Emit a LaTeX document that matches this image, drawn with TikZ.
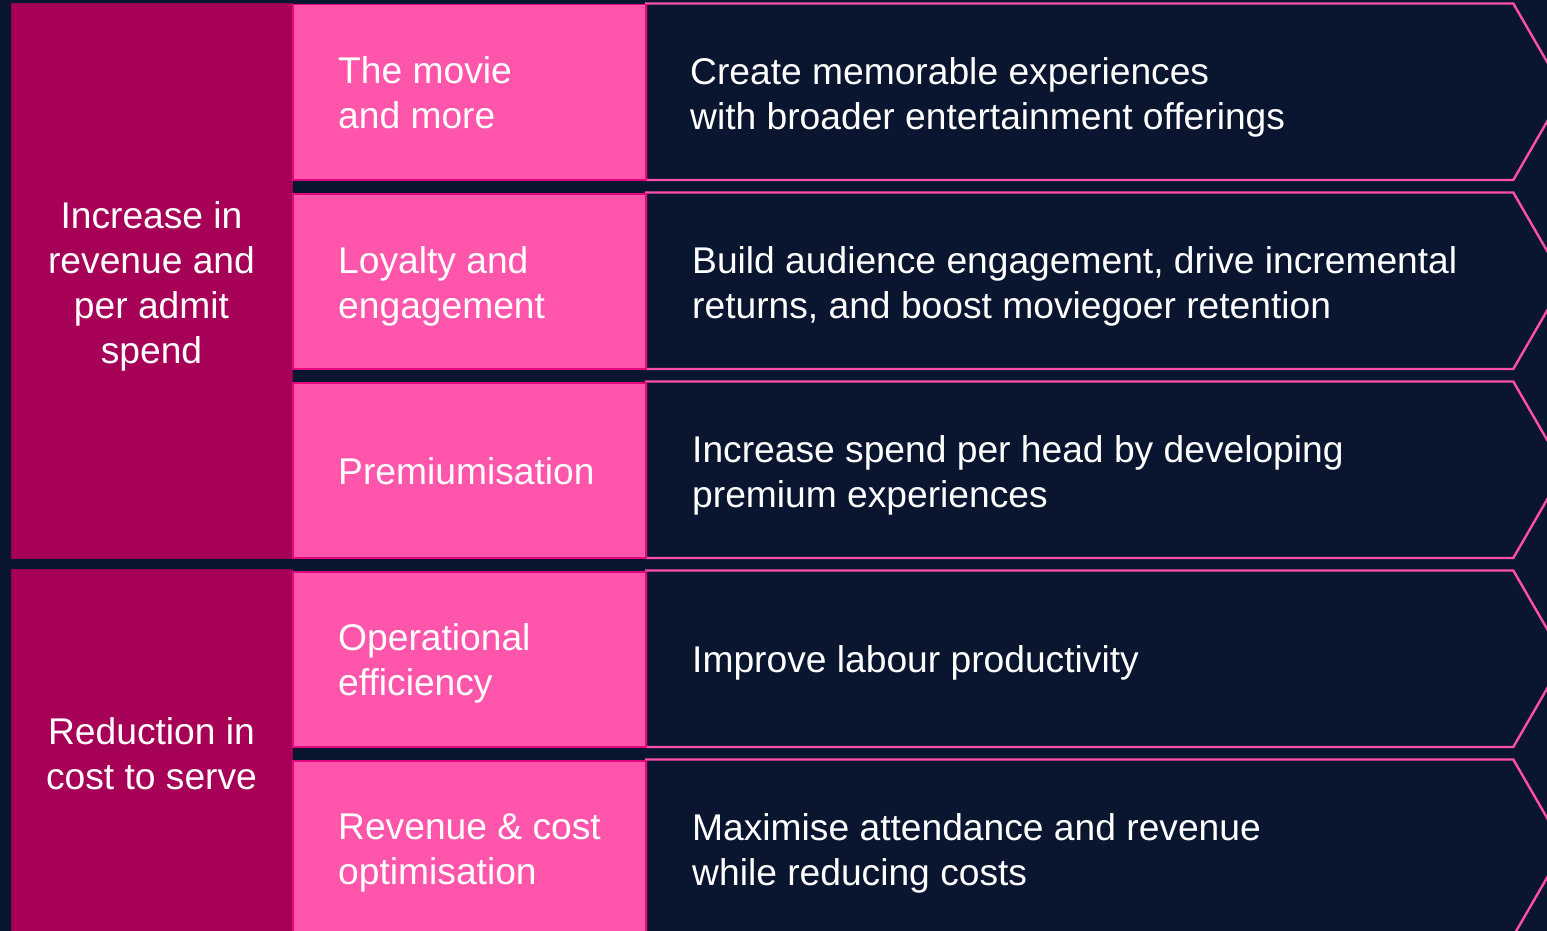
\documentclass[tikz,border=0pt]{standalone}
\usepackage{fontspec}
\setmainfont{Liberation Sans}
\definecolor{navy}{HTML}{0A1530}
\definecolor{plum}{HTML}{A70057}
\definecolor{plumedge}{HTML}{94004D}
\definecolor{rose}{HTML}{FF55AA}
\definecolor{roseedge}{HTML}{E3087E}
\definecolor{chevline}{HTML}{FF4FA8}
\begin{document}
\begin{tikzpicture}[x=1pt,y=-1pt,
  groupbox/.style={fill=plum, draw=plumedge, line width=1pt, anchor=north west,
    minimum width=281pt, inner sep=0pt},
  topicbox/.style={fill=rose, draw=roseedge, line width=1.5pt, anchor=north west,
    minimum width=353pt, minimum height=175pt, inner sep=0pt},
  chev/.style={draw=chevline, line width=2.4pt, fill=navy, line join=miter},
  txt/.style={text=white, font=\fontsize{37.2}{45}\selectfont, inner sep=0pt},
  grouptxt/.style={txt, align=center},
  topictxt/.style={txt, align=left, anchor=west},
  desctxt/.style={txt, align=left, anchor=west}]
% canvas
\fill[navy] (0,0) rectangle (1547,931);
\useasboundingbox (0,0) rectangle (1547,931);
\begin{scope}
\clip (0,0) rectangle (1547,931);

% left group boxes
\node[groupbox, minimum height=555pt] (g1) at (11,3) {};
\node[groupbox, minimum height=380pt] (g2) at (11,569) {};
\node[grouptxt] (g1t) at (151.5,286.5) {Increase in\\revenue and\\per admit\\spend};
\node[grouptxt] (g2t) at (151.5,754) {Reduction in\\cost to serve};

% chevrons (one per row)
\foreach \t [count=\i] in {3.5,192.5,381.5,570.5,759.5}{
  \pgfmathsetmacro{\b}{\t+176.5}
  \pgfmathsetmacro{\m}{\t+88.25}
  \draw[chev] (646,\t) -- (1513.3,\t) -- (1564.3,\m) -- (1513.3,\b) -- (646,\b) -- cycle;
  \node[topicbox] (tb\i) at (292,\t+0.5) {};
}

% topic labels
\node[topictxt] (t1) at (338,93) {The movie\\and more};
\node[topictxt] (t2) at (338,286) {Loyalty and\\engagement};
\node[topictxt] (t3) at (338,471) {Premiumisation};
\node[topictxt] (t4) at (338,663) {Operational\\efficiency};
\node[topictxt] (t5) at (338,853) {Revenue \& cost\\optimisation};

% descriptions
\node[desctxt] (d1) at (690,97) {Create memorable experiences\\with broader entertainment offerings};
\node[desctxt] (d2) at (692,286) {Build audience engagement, drive incremental\\returns, and boost moviegoer retention};
\node[desctxt] (d3) at (692,475) {Increase spend per head by developing\\premium experiences};
\node[desctxt] (d4) at (692,663) {Improve labour productivity};
\node[desctxt] (d5) at (692,853) {Maximise attendance and revenue\\while reducing costs};
\end{scope}
\end{tikzpicture}
\end{document}
